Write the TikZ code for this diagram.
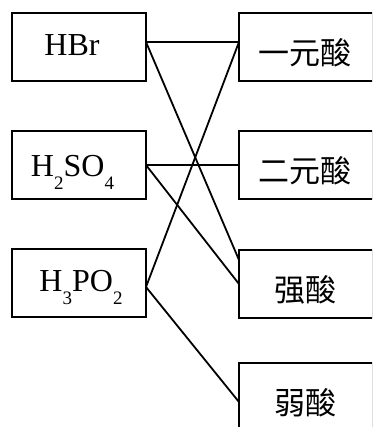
\documentclass[tikz,border=0pt]{standalone}
\usepackage{fontspec}
\setmainfont{Liberation Serif}
\newfontfamily\cjk{Noto Sans CJK SC}
% lowered subscript digit for the chemical formulas
\newcommand{\chemsub}[1]{\raisebox{-13pt}{\fontsize{19}{19}\selectfont #1}}
\tikzset{
  frame/.style={draw, line width=1.9pt, minimum width=134pt, minimum height=68pt,
                inner sep=0pt, outer sep=0pt, anchor=north west},
  formula/.style={anchor=base, inner sep=0pt, font=\fontsize{32}{32}\selectfont},
  hanzi/.style={anchor=base, inner sep=0pt, font=\cjk\fontsize{31}{31}\selectfont},
  conn/.style={line width=1.8pt}
}
\begin{document}
\begin{tikzpicture}[x=1pt,y=-1pt]
  \clip (0,0) rectangle (372,427);
  \fill[white] (0,0) rectangle (372,427);

  % left column: acids
  \node[frame] (hbr)   at (12,13)  {};
  \node[frame] (hhso)  at (12,131) {};
  \node[frame] (hhhpo) at (12,249) {};
  \node[formula] (thbr)   at (72,56)   {HBr};
  \node[formula] (thhso)  at (72.5,177) {H\chemsub{2}SO\chemsub{4}};
  \node[formula] (thhhpo) at (81,291)  {H\chemsub{3}PO\chemsub{2}};

  % right column: classes
  \node[frame] (yiyuan) at (239,13)  {};
  \node[frame] (eryuan) at (239,131) {};
  \node[frame] (qiang)  at (239,250) {};
  \node[frame] (ruo)    at (239,363) {};
  \node[hanzi] (tyiyuan) at (305,65)  {一元酸};
  \node[hanzi] (teryuan) at (305,183) {二元酸};
  \node[hanzi] (tqiang)  at (305,301) {强酸};
  \node[hanzi] (truo)    at (305,414) {弱酸};

  % matching lines
  \draw[conn] ([yshift=5pt]hbr.east) -- ([yshift=5pt]yiyuan.west);
  \draw[conn] ([yshift=5pt]hbr.east) -- ([yshift=24pt]qiang.west);
  \draw[conn] (hhso.east) -- (eryuan.west);
  \draw[conn] (hhso.east) -- (qiang.west);
  \draw[conn] ([yshift=-4pt]hhhpo.east) -- ([yshift=5pt]yiyuan.west);
  \draw[conn] ([yshift=-4pt]hhhpo.east) -- ([yshift=-5pt]ruo.west);
\end{tikzpicture}
\end{document}
